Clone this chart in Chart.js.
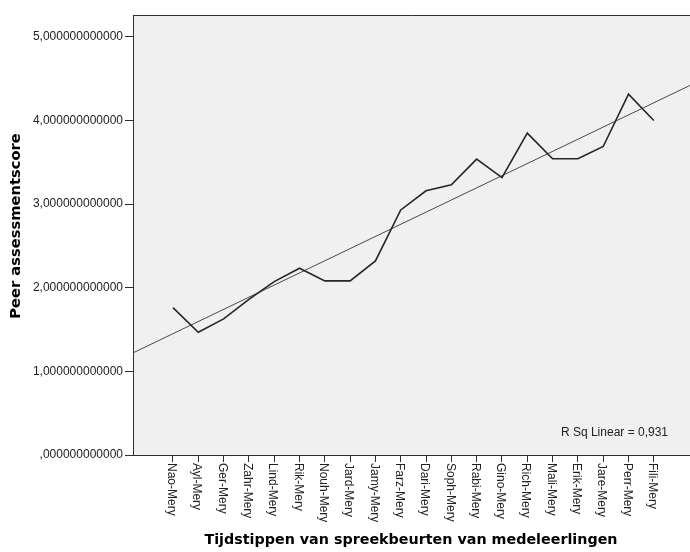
<!DOCTYPE html>
<html>
<head>
<meta charset="utf-8">
<script src="https://cdn.jsdelivr.net/npm/chart.js@4/dist/chart.umd.min.js"></script>
<style>
  html, body { margin: 0; padding: 0; background: #ffffff; overflow: hidden; }
  #wrap { width: 690px; height: 552px; position: relative; }
</style>
</head>
<body>
<div id="wrap"><canvas id="c" width="690" height="552"></canvas></div>
<script>
const categories = ["Nao-Mery","Ayl-Mery","Ger-Mery","Zahr-Mery","Lind-Mery","Rik-Mery","Nouh-Mery","Jard-Mery","Jamy-Mery","Farz-Mery","Dari-Mery","Soph-Mery","Rabi-Mery","Gino-Mery","Rich-Mery","Mali-Mery","Erik-Mery","Jare-Mery","Perr-Mery","Fili-Mery"];
const scores = [1.762,1.468,1.627,1.86,2.073,2.233,2.081,2.081,2.32,2.93,3.158,3.23,3.537,3.317,3.848,3.541,3.541,3.688,4.314,3.999];
const yTicks = [0,1,2,3,4,5];
const rSquaredText = "R Sq Linear = 0,931";
const xTitle = "Tijdstippen van spreekbeurten van medeleerlingen";
const yTitle = "Peer assessmentscore";

const X_MIN = -1.58, X_MAX = 20.43, Y_MIN = 0, Y_MAX = 5.26;

// least-squares linear fit of the plotted series
const n = scores.length;
const mx = (n - 1) / 2;
const my = scores.reduce((a, b) => a + b, 0) / n;
let sxy = 0, sxx = 0;
scores.forEach((v, i) => { sxy += (i - mx) * (v - my); sxx += (i - mx) * (i - mx); });
const slope = sxy / sxx, intercept = my - slope * mx;
const fitPoints = [X_MIN, X_MAX].map(x => ({ x: x, y: intercept + slope * x }));

const fmtY = v => (v === 0 ? "" : String(Math.floor(v))) + "," + "000000000000";

const AXIS = "#2e2e2e";
const TEXT = "#222222";

const decor = {
  id: "decor",
  beforeDraw(chart) {
    const { ctx, chartArea: a } = chart;
    ctx.save();
    ctx.fillStyle = "#f0f0f0";
    ctx.fillRect(a.left, a.top, a.right - a.left, a.bottom - a.top);
    ctx.restore();
  },
  afterDraw(chart) {
    const { ctx, chartArea: a } = chart;
    const xs = chart.scales.x;
    ctx.save();
    // top border
    ctx.strokeStyle = AXIS;
    ctx.lineWidth = 1;
    ctx.beginPath();
    ctx.moveTo(a.left, a.top + 0.5);
    ctx.lineTo(a.right, a.top + 0.5);
    ctx.stroke();
    // x category labels (rotated clockwise)
    ctx.fillStyle = TEXT;
    ctx.font = "12px 'Liberation Sans', Arial, sans-serif";
    ctx.textAlign = "left";
    ctx.textBaseline = "middle";
    categories.forEach((lab, i) => {
      const px = xs.getPixelForValue(i);
      ctx.save();
      ctx.translate(px - 1.5, a.bottom + 8);
      ctx.rotate(Math.PI / 2);
      ctx.fillText(lab, 0, 0);
      ctx.restore();
    });
    // R squared annotation
    ctx.textAlign = "right";
    ctx.textBaseline = "middle";
    ctx.fillText(rSquaredText, a.right - 22, a.bottom - 22);
    // axis titles
    ctx.font = "bold 14.3px 'DejaVu Sans', sans-serif";
    ctx.textAlign = "center";
    ctx.textBaseline = "middle";
    ctx.fillStyle = "#000";
    ctx.fillText(xTitle, 411, 540);
    ctx.save();
    ctx.translate(16, 226);
    ctx.rotate(-Math.PI / 2);
    ctx.font = "bold 14.7px 'DejaVu Sans', sans-serif";
    ctx.fillText(yTitle, 0, 0);
    ctx.restore();
    ctx.restore();
  }
};

new Chart(document.getElementById("c"), {
  type: "line",
  data: {
    datasets: [
      {
        label: "score",
        data: scores.map((v, i) => ({ x: i, y: v })),
        borderColor: "#262626",
        borderWidth: 1.6,
        pointRadius: 0,
        tension: 0,
        fill: false
      },
      {
        label: "fit",
        data: fitPoints,
        borderColor: "#4a4a4a",
        borderWidth: 1,
        pointRadius: 0,
        tension: 0,
        fill: false
      }
    ]
  },
  options: {
    responsive: false,
    animation: false,
    events: [],
    layout: { padding: { left: 0, right: 0, top: 15, bottom: 0 } },
    plugins: { legend: { display: false }, tooltip: { enabled: false } },
    scales: {
      x: {
        type: "linear",
        min: X_MIN,
        max: X_MAX,
        afterBuildTicks: s => { s.ticks = categories.map((_, i) => ({ value: i })); },
        afterFit: s => { s.height = 97; },
        grid: { drawOnChartArea: false, drawTicks: true, tickLength: 7, color: AXIS, lineWidth: 1 },
        border: { display: true, color: AXIS, width: 1 },
        ticks: { display: false }
      },
      y: {
        type: "linear",
        min: Y_MIN,
        max: Y_MAX,
        afterBuildTicks: s => { s.ticks = yTicks.map(v => ({ value: v })); },
        afterFit: s => { s.width = 133; },
        grid: { drawOnChartArea: false, drawTicks: true, tickLength: 8, color: AXIS, lineWidth: 1 },
        border: { display: true, color: AXIS, width: 1 },
        ticks: {
          padding: 2,
          color: TEXT,
          font: { family: "'Liberation Sans', Arial, sans-serif", size: 12 },
          callback: v => fmtY(v)
        }
      }
    }
  },
  plugins: [decor]
});
</script>
</body>
</html>
